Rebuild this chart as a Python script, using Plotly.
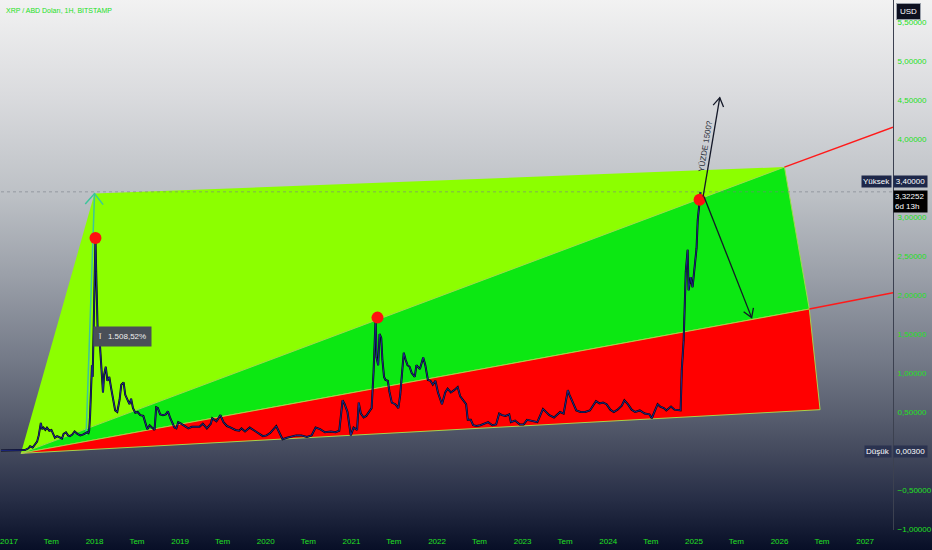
import base64
import math
import pandas as pd
import plotly.graph_objects as go

# ---------------- data ----------------
price_dates = [
    "2016-11-28", "2016-12-20", "2017-01-20", "2017-02-20", "2017-03-10", "2017-03-25", "2017-04-01",
    "2017-04-12", "2017-04-22", "2017-05-01", "2017-05-08", "2017-05-17", "2017-05-22", "2017-05-28",
    "2017-06-05", "2017-06-12", "2017-06-22", "2017-07-01", "2017-07-10", "2017-07-16", "2017-07-25",
    "2017-08-05", "2017-08-15", "2017-08-22", "2017-09-01", "2017-09-10", "2017-09-18", "2017-09-28",
    "2017-10-08", "2017-10-20", "2017-11-01", "2017-11-12", "2017-11-22", "2017-12-01", "2017-12-06",
    "2017-12-09", "2017-12-13", "2017-12-17", "2017-12-21", "2017-12-24", "2017-12-28", "2018-01-01",
    "2018-01-05", "2018-01-08", "2018-01-12", "2018-01-16", "2018-01-20", "2018-01-25", "2018-01-31",
    "2018-02-06", "2018-02-11", "2018-02-18", "2018-02-25", "2018-03-05", "2018-03-12", "2018-03-20",
    "2018-03-30", "2018-04-08", "2018-04-18", "2018-04-25", "2018-05-05", "2018-05-12", "2018-05-20",
    "2018-05-30", "2018-06-06", "2018-06-14", "2018-06-24", "2018-07-04", "2018-07-15", "2018-07-28",
    "2018-08-05", "2018-08-14", "2018-08-24", "2018-09-05", "2018-09-14", "2018-09-21", "2018-09-28",
    "2018-10-08", "2018-10-20", "2018-11-01", "2018-11-10", "2018-11-20", "2018-11-28", "2018-12-08",
    "2018-12-16", "2018-12-24", "2019-01-05", "2019-01-20", "2019-02-05", "2019-02-20", "2019-03-05",
    "2019-03-25", "2019-04-08", "2019-04-25", "2019-05-12", "2019-05-18", "2019-06-05", "2019-06-22",
    "2019-07-05", "2019-07-20", "2019-08-05", "2019-08-25", "2019-09-10", "2019-09-20", "2019-10-05",
    "2019-10-25", "2019-11-15", "2019-12-05", "2019-12-20", "2020-01-05", "2020-01-20", "2020-02-15",
    "2020-03-01", "2020-03-13", "2020-04-01", "2020-04-25", "2020-05-10", "2020-06-01", "2020-06-25",
    "2020-07-15", "2020-08-01", "2020-08-20", "2020-09-10", "2020-10-05", "2020-10-25", "2020-11-10",
    "2020-11-24", "2020-12-03", "2020-12-15", "2020-12-29", "2021-01-10", "2021-01-25", "2021-02-01",
    "2021-02-10", "2021-02-22", "2021-03-05", "2021-03-15", "2021-03-28", "2021-04-05", "2021-04-10",
    "2021-04-14", "2021-04-18", "2021-04-25", "2021-05-01", "2021-05-08", "2021-05-13", "2021-05-20",
    "2021-05-26", "2021-06-05", "2021-06-12", "2021-06-22", "2021-07-07", "2021-07-20", "2021-07-28",
    "2021-08-05", "2021-08-12", "2021-08-20", "2021-08-28", "2021-09-06", "2021-09-15", "2021-09-28",
    "2021-10-05", "2021-10-20", "2021-11-03", "2021-11-12", "2021-11-23", "2021-12-04", "2021-12-14",
    "2021-12-25", "2022-01-05", "2022-01-22", "2022-02-05", "2022-02-15", "2022-03-01", "2022-03-15",
    "2022-03-30", "2022-04-10", "2022-04-25", "2022-05-05", "2022-05-12", "2022-05-25", "2022-06-04",
    "2022-06-18", "2022-07-05", "2022-07-25", "2022-08-07", "2022-08-25", "2022-09-10", "2022-09-23",
    "2022-10-05", "2022-10-20", "2022-11-05", "2022-11-12", "2022-11-30", "2022-12-20", "2023-01-05",
    "2023-01-20", "2023-02-10", "2023-03-05", "2023-03-29", "2023-04-10", "2023-04-25", "2023-05-15",
    "2023-06-10", "2023-06-25", "2023-07-13", "2023-07-20", "2023-08-05", "2023-08-18", "2023-09-05",
    "2023-09-25", "2023-10-15", "2023-11-01", "2023-11-10", "2023-11-25", "2023-12-10", "2023-12-25",
    "2024-01-10", "2024-01-25", "2024-02-10", "2024-02-28", "2024-03-10", "2024-03-25", "2024-04-10",
    "2024-04-25", "2024-05-15", "2024-06-05", "2024-06-25", "2024-07-05", "2024-07-20", "2024-07-30",
    "2024-08-10", "2024-08-25", "2024-09-05", "2024-09-25", "2024-10-10", "2024-10-25", "2024-11-05",
    "2024-11-10", "2024-11-18", "2024-11-27", "2024-12-05", "2024-12-09", "2024-12-18", "2024-12-26",
    "2025-01-04", "2025-01-12", "2025-01-17", "2025-01-25", "2025-01-29",
]
price_values = [
    0.0075, 0.0065, 0.0068, 0.0085, 0.012, 0.035, 0.06,
    0.045, 0.09, 0.12, 0.2, 0.36, 0.28, 0.3,
    0.27, 0.3, 0.26, 0.27, 0.21, 0.17, 0.19,
    0.17, 0.16, 0.22, 0.24, 0.2, 0.19, 0.21,
    0.25, 0.22, 0.2, 0.21, 0.23, 0.24, 0.23,
    0.26, 0.45, 0.75, 1.1, 0.95, 1.7, 2.2,
    2.73, 2.3, 1.8, 1.35, 1.55, 1.3, 1.05,
    0.75, 0.98, 1.08, 0.9, 0.95, 0.82, 0.68,
    0.52, 0.5, 0.66, 0.85, 0.88, 0.72, 0.66,
    0.6, 0.67, 0.55, 0.49, 0.5, 0.46, 0.45,
    0.37, 0.28, 0.33, 0.29, 0.27, 0.56, 0.55,
    0.47, 0.46, 0.47, 0.51, 0.42, 0.36, 0.3,
    0.29, 0.37, 0.35, 0.32, 0.29, 0.31, 0.31,
    0.31, 0.35, 0.29, 0.35, 0.42, 0.38, 0.46,
    0.37, 0.32, 0.3, 0.27, 0.26, 0.29, 0.25,
    0.3, 0.26, 0.22, 0.19, 0.2, 0.23, 0.32,
    0.23, 0.15, 0.17, 0.19, 0.2, 0.2, 0.18,
    0.2, 0.3, 0.28, 0.24, 0.25, 0.24, 0.26,
    0.65, 0.6, 0.5, 0.2, 0.3, 0.27, 0.62,
    0.48, 0.43, 0.45, 0.5, 0.55, 1.0, 1.33,
    1.7, 1.2, 1.1, 1.5, 1.45, 1.17, 0.95,
    0.91, 0.9, 0.76, 0.62, 0.6, 0.55, 0.72,
    1.0, 1.26, 1.17, 1.1, 1.08, 1.0, 0.95,
    1.1, 1.05, 1.2, 1.1, 0.91, 0.9, 0.85,
    0.9, 0.75, 0.6, 0.75, 0.8, 0.75, 0.78,
    0.82, 0.7, 0.64, 0.6, 0.4, 0.4, 0.33,
    0.32, 0.33, 0.36, 0.37, 0.33, 0.34, 0.48,
    0.46, 0.45, 0.47, 0.37, 0.39, 0.34, 0.34,
    0.4, 0.39, 0.37, 0.54, 0.5, 0.46, 0.43,
    0.5, 0.48, 0.78, 0.72, 0.62, 0.52, 0.5,
    0.5, 0.52, 0.6, 0.64, 0.61, 0.62, 0.6,
    0.53, 0.5, 0.53, 0.58, 0.65, 0.6, 0.53,
    0.5, 0.52, 0.48, 0.47, 0.42, 0.52, 0.6,
    0.57, 0.55, 0.52, 0.57, 0.53, 0.52, 0.52,
    1.04, 1.42, 2.3, 2.58, 2.06, 2.23, 2.1,
    2.4, 2.6, 2.96, 3.22, 3.32,
]

# drawing (pattern) anchor points
pattern_dates = ["2017-02-21", "2018-01-01", "2026-01-22", "2026-05-08", "2026-06-23"]
pattern_values = [-0.03, 3.30, 3.64, 1.82, 0.53]
ext_end_date = "2027-04-30"
ext_upper_values = [3.64, 4.15]
ext_lower_values = [1.82, 2.03]

peak_dates = ["2018-01-05", "2021-04-22", "2025-01-25"]
peak_values = [2.73, 1.71, 3.22]

measure_dates = ["2017-11-26", "2018-01-01"]
measure_values = [0.205, 3.30]
measure_label = "Ī   1.508,52%"

up_arrow_dates = ["2025-02-09", "2025-04-21"]
up_arrow_values = [3.26, 4.53]
down_arrow_dates = ["2025-02-13", "2025-09-04"]
down_arrow_values = [3.26, 1.71]

y_ticks = [-1.0, -0.5, 0.0, 0.5, 1.0, 1.5, 2.0, 2.5, 3.0, 3.5, 4.0, 4.5, 5.0, 5.5]
y_ticktext = ["−1,00000", "−0,50000", "0,00000", "0,50000", "1,00000", "1,50000", "2,00000",
              "2,50000", "3,00000", "3,50000", "4,00000", "4,50000", "5,00000", "5,50000"]
x_ticks = ["2017-01-01", "2017-07-01", "2018-01-01", "2018-07-01", "2019-01-01", "2019-07-01",
           "2020-01-01", "2020-07-01", "2021-01-01", "2021-07-01", "2022-01-01", "2022-07-01",
           "2023-01-01", "2023-07-01", "2024-01-01", "2024-07-01", "2025-01-01", "2025-07-01",
           "2026-01-01", "2026-07-01", "2027-01-01"]
x_ticktext = ["2017", "Tem", "2018", "Tem", "2019", "Tem", "2020", "Tem", "2021", "Tem", "2022",
              "Tem", "2023", "Tem", "2024", "Tem", "2025", "Tem", "2026", "Tem", "2027"]

last_price = 3.32252
high_value = 3.40
low_value = 0.0

# ---------------- layout geometry ----------------
W, H = 932, 550
ML, MR, MT, MB = 0, 35, 0, 20
PW, PH = W - ML - MR, H - MT - MB
X0, X1 = pd.Timestamp("2016-11-28"), pd.Timestamp("2027-04-30")
YMIN, YMAX = -1.0128, 5.782


def to_px(d, v):
    t = pd.Timestamp(d)
    return (t - X0) / (X1 - X0) * PW, (YMAX - v) / (YMAX - YMIN) * PH


def from_px(px, py):
    return X0 + (X1 - X0) * (px / PW), YMAX - py / PH * (YMAX - YMIN)


def head(d0, v0, d1, v1, length=9, ang=32):
    x0, y0 = to_px(d0, v0)
    x1, y1 = to_px(d1, v1)
    dx, dy = x0 - x1, y0 - y1
    n = math.hypot(dx, dy)
    ux, uy = dx / n, dy / n
    xs, ys = [], []
    for s in (1, -1):
        a = math.radians(ang * s)
        wx = x1 + length * (ux * math.cos(a) - uy * math.sin(a))
        wy = y1 + length * (ux * math.sin(a) + uy * math.cos(a))
        t, v = from_px(wx, wy)
        xs.append(t)
        ys.append(v)
    return [xs[0], pd.Timestamp(d1), xs[1]], [ys[0], v1, ys[1]]


fig = go.Figure()

# background gradient
stops = [(0, "#f3f3f3"), (0.18, "#dadbde"), (0.36, "#bcc0c5"), (0.5, "#9ba0a9"), (0.65, "#747a88"),
         (0.75, "#585e6f"), (0.82, "#42485c"), (0.9, "#272e46"), (1.0, "#040b23")]
stop_s = "".join(f'<stop offset="{o}" stop-color="{c}"/>' for o, c in stops)
svg = (f'<svg xmlns="http://www.w3.org/2000/svg" width="{W}" height="{H}" preserveAspectRatio="none">'
       f'<defs><linearGradient id="g" x1="0" y1="0" x2="0" y2="1">{stop_s}</linearGradient></defs>'
       f'<rect width="{W}" height="{H}" fill="url(#g)"/></svg>')
src = "data:image/svg+xml;base64," + base64.b64encode(svg.encode()).decode()

# pattern polygons
P = list(zip(pattern_dates, pattern_values))
polys = [
    ([P[0], P[1], P[2], P[0]], "#8cff00", "rgba(0,0,0,0)"),
    ([P[0], P[2], P[3], P[0]], "#0ce812", "#9fdc4a"),
    ([P[0], P[3], P[4], P[0]], "#ff0000", "#a8d24a"),
]
for pts, col, lc in polys:
    fig.add_trace(go.Scatter(x=[p[0] for p in pts], y=[p[1] for p in pts], mode="lines",
                             fill="toself", fillcolor=col, line=dict(color=lc, width=1),
                             hoverinfo="skip"))

# red extensions
fig.add_trace(go.Scatter(x=[pattern_dates[2], ext_end_date], y=ext_upper_values, mode="lines",
                         line=dict(color="#ff1a1a", width=1.5), hoverinfo="skip"))
fig.add_trace(go.Scatter(x=[pattern_dates[3], ext_end_date], y=ext_lower_values, mode="lines",
                         line=dict(color="#ff1a1a", width=1.5), hoverinfo="skip"))

# current price dotted line
fig.add_trace(go.Scatter(x=[str(X0.date()), str(X1.date())], y=[last_price, last_price], mode="lines",
                         line=dict(color="rgba(120,125,135,0.6)", width=1, dash="dot"), hoverinfo="skip"))

# measure arrow (teal)
fig.add_trace(go.Scatter(x=measure_dates, y=measure_values, mode="lines",
                         line=dict(color="#3cc59a", width=1.5), hoverinfo="skip"))
hx, hy = head(measure_dates[0], measure_values[0], measure_dates[1], measure_values[1], length=14, ang=40)
fig.add_trace(go.Scatter(x=hx, y=hy, mode="lines", line=dict(color="#3cc59a", width=1.5), hoverinfo="skip"))

# price line
fig.add_trace(go.Scatter(x=price_dates, y=price_values, mode="lines",
                         line=dict(color="#05060f", width=2.0), hoverinfo="skip"))
fig.add_trace(go.Scatter(x=price_dates, y=price_values, mode="lines",
                         line=dict(color="#1f2a8c", width=1.0), hoverinfo="skip"))

# red peak dots
fig.add_trace(go.Scatter(x=peak_dates, y=peak_values, mode="markers",
                         marker=dict(color="#ff1010", size=12, line=dict(width=0)), hoverinfo="skip"))

# black arrows
for ds, vs in ((up_arrow_dates, up_arrow_values), (down_arrow_dates, down_arrow_values)):
    fig.add_trace(go.Scatter(x=ds, y=vs, mode="lines", line=dict(color="#141828", width=1.3),
                             hoverinfo="skip"))
    hx, hy = head(ds[0], vs[0], ds[1], vs[1], length=10, ang=32)
    fig.add_trace(go.Scatter(x=hx, y=hy, mode="lines", line=dict(color="#141828", width=1.3),
                             hoverinfo="skip"))

green = "#22e022"
font_main = "Liberation Sans Narrow, Liberation Sans, Arial"

ann = []
ann.append(dict(xref="paper", yref="paper", x=0, y=1, xanchor="left", yanchor="top", xshift=3, yshift=-5,
                text="XRP / ABD Doları, 1H, BITSTAMP", showarrow=False,
                font=dict(color=green, size=7, family=font_main)))
ann.append(dict(xref="x", yref="y", x="2018-05-02", y=1.47, text=measure_label, showarrow=False,
                bgcolor="#4a4f58", borderpad=5, font=dict(color="#eeeeee", size=8, family=font_main)))
ann.append(dict(xref="x", yref="y", x="2025-02-17", y=3.91, text="YÜZDE 1500?", showarrow=False,
                textangle=-80.6, font=dict(color="#2b2f3a", size=8, family=font_main)))
# right price labels
ann.append(dict(xref="paper", yref="paper", x=1, y=1, xanchor="left", yanchor="top", xshift=3, yshift=-3,
                text="USD", showarrow=False, bgcolor="#0d1020", bordercolor="#9aa0aa", borderwidth=1,
                borderpad=3, font=dict(color="#ffffff", size=8, family=font_main)))
ann.append(dict(xref="paper", yref="y", x=1, y=high_value, xanchor="right", yanchor="middle", xshift=-1,
                yshift=4, text="Yüksek", showarrow=False, bgcolor="#1d2749", borderpad=1,
                font=dict(color="#ffffff", size=8, family=font_main)))
ann.append(dict(xref="paper", yref="y", x=1, y=high_value, xanchor="left", yanchor="middle", xshift=0,
                yshift=4, text="3,40000", showarrow=False, bgcolor="#1d2749", borderpad=1, width=31,
                font=dict(color="#ffffff", size=8, family=font_main)))
ann.append(dict(xref="paper", yref="y", x=1, y=last_price, xanchor="left", yanchor="top", xshift=0, yshift=2,
                text="3,32252<br>6d 13h", showarrow=False, bgcolor="#000000", borderpad=1, width=31,
                align="left", font=dict(color="#ffffff", size=8, family=font_main)))
ann.append(dict(xref="paper", yref="y", x=1, y=low_value, xanchor="right", yanchor="middle", xshift=-1,
                text="Düşük", showarrow=False, bgcolor="#2b3350", borderpad=1,
                font=dict(color="#ffffff", size=8, family=font_main)))
ann.append(dict(xref="paper", yref="y", x=1, y=low_value, xanchor="left", yanchor="middle", xshift=0,
                text="0,00300", showarrow=False, bgcolor="#2b3350", borderpad=1, width=31,
                font=dict(color="#ffffff", size=8, family=font_main)))

fig.update_layout(
    width=W, height=H,
    margin=dict(l=ML, r=MR, t=MT, b=MB),
    paper_bgcolor="#8a8f99",
    plot_bgcolor="rgba(0,0,0,0)",
    showlegend=False,
    hovermode=False,
    images=[dict(source=src, xref="paper", yref="paper", x=-0.01, y=1.01, sizex=W / PW + 0.03,
                 sizey=H / PH + 0.02, xanchor="left", yanchor="top", sizing="stretch", layer="below")],
    annotations=ann,
    xaxis=dict(type="date", range=[str(X0.date()), str(X1.date())], tickvals=x_ticks, ticktext=x_ticktext,
               showgrid=False, zeroline=False, showline=False, ticks="", ticklabeloverflow="allow",
               ticklabelstandoff=5, tickfont=dict(color=green, size=8, family=font_main)),
    yaxis=dict(side="right", range=[YMIN, YMAX], tickvals=y_ticks, ticktext=y_ticktext,
               showgrid=False, zeroline=False, showline=True, linecolor="#3c4150", linewidth=1,
               ticks="", ticklabeloverflow="allow", ticklabelstandoff=2,
               tickfont=dict(color=green, size=8, family=font_main)),
)

fig.write_html("out.html", config={"displayModeBar": False},
               post_script="document.body.style.margin='0px';document.body.style.overflow='hidden';")
